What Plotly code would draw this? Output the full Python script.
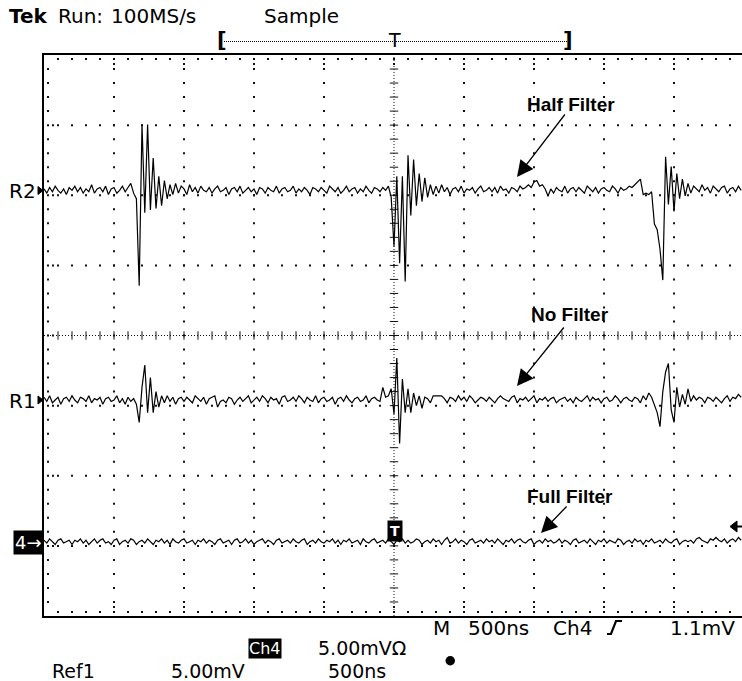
import numpy as np
import plotly.graph_objects as go

# ---------------------------------------------------------------------------
# Recorded waveforms (mV about each trace's own ground), 20 ns per sample
# ---------------------------------------------------------------------------
half_filter_mv = [
    0.1, -0.2, 0.2, -0.1, 0.3, 0.0, -0.2, 0.1, -0.3, 0.2,
    0.0, 0.3, -0.1, 0.2, -0.2, 0.1, -0.1, 0.4, -0.2, 0.1,
    0.2, -0.1, 0.3, -0.3, 0.1, 0.2, -0.2, 0.0, 0.3, -0.1,
    0.2, 0.5, -0.2, -0.6, -6.8, 4.7, -1.6, 4.7, -1.4, 2.3,
    -1.3, 1.0, -1.1, 0.7, -0.6, 0.4, -0.3, 0.5, -0.2, 0.3,
    0.1, -0.3, 0.4, -0.1, 0.2, -0.2, 0.3, 0.0, -0.1, 0.2,
    -0.2, 0.1, 0.3, -0.1, 0.0, 0.2, -0.3, 0.1, 0.2, -0.1,
    0.3, -0.2, 0.0, 0.2, -0.1, 0.1, -0.3, 0.2, 0.1, -0.2,
    0.2, 0.0, -0.1, 0.3, -0.2, 0.1, 0.2, -0.1, 0.0, 0.3,
    -0.2, 0.1, -0.1, 0.2, 0.0, -0.3, 0.2, 0.1, -0.1, 0.2,
    0.0, -0.2, 0.3, 0.1, -0.1, 0.2, -0.2, 0.0, 0.3, -0.1,
    0.1, 0.2, -0.2, 0.1, -0.1, 0.3, 0.0, -0.2, 0.2, 0.1,
    -0.1, 0.2, 0.0, 0.3, -0.5, -4.0, 1.0, -5.2, 1.0, -6.5,
    2.5, -1.8, 2.2, -1.1, 1.2, -0.8, 0.9, -0.5, 0.4, -0.3,
    0.3, -0.2, 0.4, -0.1, 0.2, -0.3, 0.1, 0.2, -0.1, 0.3,
    -0.2, 0.1, 0.0, 0.2, -0.2, 0.1, 0.3, -0.1, 0.0, 0.2,
    -0.1, 0.2, -0.2, 0.3, 0.0, 0.1, -0.2, 0.2, 0.1, -0.1,
    0.3, 0.1, 0.2, 0.4, 0.2, 0.6, 0.7, 0.3, 0.4, 0.1,
    -0.4, 0.1, -0.2, 0.2, 0.0, -0.1, 0.3, -0.2, 0.1, 0.2,
    -0.1, 0.2, 0.0, -0.2, 0.3, 0.1, -0.1, 0.2, -0.2, 0.1,
    0.2, 0.0, -0.1, 0.3, 0.1, -0.2, 0.2, 0.0, 0.1, 0.3,
    0.2, 0.4, 0.6, 0.8, -0.3, -0.2, -0.3, -0.1, -2.4, -2.8,
    -4.2, -6.4, 2.4, -1.0, 1.7, -1.5, 1.2, -0.6, 0.8, -0.4,
    0.5, -0.2, 0.3, 0.1, -0.1, 0.4, 0.0, 0.2, -0.2, 0.3,
    0.1, -0.1, 0.2, 0.3, -0.2, 0.1, 0.2, -0.1, 0.3, 0.0,
]

no_filter_mv = [
    0.2, -0.1, 0.3, -0.2, 0.0, 0.2, -0.3, 0.1, 0.2, -0.1,
    0.3, 0.0, -0.2, 0.2, 0.1, -0.1, 0.3, -0.2, 0.1, 0.0,
    0.2, -0.3, 0.1, 0.2, -0.1, 0.0, 0.3, -0.2, 0.1, -0.3,
    0.2, -0.1, 0.1, -0.3, -1.6, 0.9, 2.5, -0.9, 1.6, -0.9,
    0.6, -0.5, 0.3, -0.2, 0.3, -0.1, 0.2, -0.3, 0.1, 0.2,
    -0.1, 0.2, 0.0, -0.2, 0.3, 0.1, -0.1, 0.2, -0.3, 0.1,
    0.2, 0.3, -0.5, -0.1, 0.0, -0.2, 0.2, 0.1, -0.3, 0.0,
    0.2, -0.1, 0.1, 0.3, -0.2, 0.0, 0.2, -0.1, 0.3, 0.1,
    -0.2, 0.2, 0.0, 0.1, -0.3, 0.2, 0.3, -0.1, 0.0, 0.2,
    -0.1, 0.3, 0.1, -0.2, 0.2, 0.0, -0.1, 0.3, -0.2, 0.1,
    0.2, -0.1, 0.0, 0.2, -0.3, 0.1, 0.2, -0.1, 0.3, 0.0,
    -0.2, 0.1, 0.2, -0.1, 0.0, 0.3, -0.2, 0.1, 0.2, 0.0,
    -0.1, 0.9, 0.2, 0.3, 0.8, -1.0, 3.0, -3.1, 1.5, -0.9,
    0.8, -0.9, 0.5, -0.4, 0.3, -0.6, 0.2, 0.1, -0.2, 0.3,
    0.3, 0.3, 0.3, 0.1, -0.2, 0.2, 0.1, -0.1, 0.3, 0.0,
    0.2, -0.1, 0.3, 0.1, -0.2, 0.0, 0.2, 0.1, -0.1, 0.2,
    0.0, -0.2, 0.1, 0.3, 0.1, 0.0, -0.1, 0.2, 0.3, -0.2,
    0.1, 0.0, 0.2, -0.1, 0.1, 0.3, -0.2, 0.1, 0.0, 0.2,
    -0.1, 0.1, 0.2, -0.2, 0.0, 0.1, 0.2, -0.1, 0.1, -0.2,
    0.2, 0.0, -0.1, 0.1, 0.3, -0.1, 0.2, 0.0, 0.1, -0.2,
    0.1, 0.2, -0.1, 0.0, 0.3, 0.1, -0.2, 0.1, 0.2, 0.0,
    -0.1, 0.2, 0.1, -0.2, 0.3, 0.0, 0.5, 0.2, -0.4, -0.9,
    -1.9, 0.6, 2.0, 2.6, -0.7, -1.6, 0.9, -0.5, 0.4, -0.3,
    0.8, -0.1, 0.3, 0.0, 0.2, 0.1, -0.2, 0.2, 0.1, -0.1,
    0.2, 0.0, -0.2, 0.1, 0.3, -0.1, 0.2, 0.1, 0.4, 0.2,
]

full_filter_mv = [
    0.1, -0.1, 0.2, 0.0, -0.2, 0.1, 0.2, -0.1, 0.0, 0.1,
    -0.2, 0.1, 0.0, 0.2, -0.1, 0.1, -0.2, 0.0, 0.2, -0.1,
    0.1, 0.2, -0.1, 0.0, -0.2, 0.1, 0.2, -0.2, 0.0, 0.1,
    -0.1, 0.2, 0.1, -0.2, 0.0, 0.1, -0.1, 0.2, 0.0, -0.2,
    0.1, 0.0, 0.2, -0.1, 0.1, -0.2, 0.2, 0.0, -0.1, 0.1,
    0.2, -0.1, 0.0, 0.1, -0.2, 0.1, 0.0, 0.2, -0.1, 0.1,
    0.0, -0.2, 0.1, 0.2, -0.1, 0.0, 0.1, -0.2, 0.1, 0.2,
    -0.1, 0.0, 0.2, -0.1, 0.1, -0.2, 0.0, 0.1, 0.2, -0.1,
    0.1, 0.0, -0.2, 0.1, 0.2, -0.1, 0.0, 0.1, -0.1, 0.2,
    0.0, -0.1, 0.1, 0.2, -0.2, 0.0, 0.1, -0.1, 0.2, 0.0,
    -0.1, 0.1, 0.0, 0.2, -0.1, 0.1, -0.2, 0.1, 0.0, 0.2,
    -0.1, 0.0, 0.1, -0.2, 0.2, 0.0, -0.1, 0.1, 0.2, -0.1,
    0.0, 0.1, -0.1, 0.2, 0.0, -0.2, 0.1, 0.0, 0.2, -0.1,
    0.1, -0.1, 0.0, 0.2, 0.1, -0.2, 0.0, 0.1, -0.1, 0.2,
    0.0, 0.1, -0.2, 0.1, 0.3, -0.1, 0.0, 0.2, -0.1, 0.1,
    0.0, -0.2, 0.1, 0.2, -0.1, 0.0, 0.1, -0.1, 0.2, 0.0,
    0.1, -0.1, 0.2, 0.0, -0.2, 0.1, 0.0, 0.2, -0.1, 0.1,
    0.2, 0.0, -0.1, 0.1, 0.2, -0.2, 0.0, 0.1, -0.1, 0.2,
    0.0, 0.1, -0.1, 0.0, 0.2, -0.1, 0.1, 0.0, -0.2, 0.1,
    0.2, -0.1, 0.0, 0.1, -0.1, 0.2, 0.0, -0.2, 0.1, 0.0,
    0.2, -0.1, 0.1, 0.0, -0.1, 0.2, 0.1, -0.2, 0.0, 0.1,
    -0.1, 0.2, 0.0, 0.1, -0.2, 0.1, 0.0, 0.2, -0.1, 0.0,
    0.1, -0.1, 0.2, 0.0, -0.1, 0.1, 0.2, -0.2, 0.0, 0.1,
    0.0, 0.1, -0.1, 0.2, 0.3, 0.1, 0.0, -0.1, 0.2, 0.1,
    0.3, 0.1, 0.0, 0.2, -0.1, 0.1, 0.2, 0.0, 0.3, 0.1,
]

SAMPLE_NS = 20
NS_PER_DIV = 500
MV_PER_DIV = 5

# vertical position of each trace's ground marker, in divisions
pos_r2_div = 2.07
pos_r1_div = -0.92
pos_ch4_div = -2.94

# ---------------------------------------------------------------------------
# Screen geometry
# ---------------------------------------------------------------------------
W, H = 742, 681
L, T = 44, 55           # plot-area origin (px)
PW, PH = 698, 561       # plot-area size (px)
DIV_PX_X = 70.0
X0 = -5 * NS_PER_DIV
X1 = X0 + PW / DIV_PX_X * NS_PER_DIV
Y0, Y1 = -4 * MV_PER_DIV, 4 * MV_PER_DIV


def xd(px):
    return X0 + (px - L) / DIV_PX_X * NS_PER_DIV


def yd(py):
    return Y1 - (py - T) / PH * (Y1 - Y0)


def xp(px):
    return (px - L) / PW


def yp(py):
    return (T + PH - py) / PH


fig = go.Figure()

# ---------------------------------------------------------------------------
# Graticule
# ---------------------------------------------------------------------------
minor_x = X0 + (NS_PER_DIV / 5) * np.arange(0, 51)
minor_x = minor_x[minor_x < X1]
minor_y = np.arange(Y0, Y1 + 0.5, MV_PER_DIV / 5)
major_x = [X0 + NS_PER_DIV * k for k in range(1, 10) if k != 5]
major_y = [Y0 + MV_PER_DIV * k for k in range(1, 8) if k != 4]

gx, gy = [], []
for mx in major_x:
    for v in minor_y[1:-1]:
        gx.append(mx)
        gy.append(v)
for my in major_y:
    for u in minor_x[1:]:
        gx.append(u)
        gy.append(my)

# frame ticks: a dot just inside the border at every minor step,
# a second one further in at every major step
for v in minor_y[1:-1]:
    gx.append(xd(L + 4))
    gy.append(v)
for v in major_y + [0]:
    gx.append(xd(L + 9))
    gy.append(v)
for u in minor_x[1:]:
    gx += [u, u]
    gy += [yd(T + 4), yd(T + PH - 4)]
for u in major_x + [0]:
    gx += [u, u]
    gy += [yd(T + 9), yd(T + PH - 9)]

fig.add_trace(go.Scatter(
    x=gx, y=gy, mode="markers", hoverinfo="skip",
    marker=dict(symbol="square", size=2, color="#111111", line=dict(width=0)),
))

# centre crosshair tick marks
fig.add_trace(go.Scatter(
    x=list(minor_x[1:]), y=[0] * len(minor_x[1:]), mode="markers", hoverinfo="skip",
    marker=dict(symbol="line-ns", size=6, line=dict(width=1, color="#111111")),
))
fig.add_trace(go.Scatter(
    x=[0] * len(minor_y[1:-1]), y=list(minor_y[1:-1]), mode="markers", hoverinfo="skip",
    marker=dict(symbol="line-ew", size=6, line=dict(width=1, color="#111111")),
))

# ---------------------------------------------------------------------------
# Waveforms
# ---------------------------------------------------------------------------
waves = [
    ("Half Filter", half_filter_mv, pos_r2_div),
    ("No Filter", no_filter_mv, pos_r1_div),
    ("Full Filter", full_filter_mv, pos_ch4_div),
]
for name, mv, pos in waves:
    t = X0 + SAMPLE_NS * np.arange(len(mv))
    fig.add_trace(go.Scatter(
        x=t, y=np.array(mv) + pos * MV_PER_DIV, mode="lines", name=name,
        line=dict(color="black", width=1.2), hoverinfo="skip",
    ))

# ---------------------------------------------------------------------------
# Shapes
# ---------------------------------------------------------------------------
shapes = [
    # centre crosshair
    dict(type="line", xref="x", yref="y", x0=X0, x1=X1, y0=0, y1=0,
         line=dict(color="#111111", width=1, dash="1px,2px")),
    dict(type="line", xref="x", yref="y", x0=0, x1=0, y0=Y0, y1=Y1,
         line=dict(color="#111111", width=1, dash="1px,2px")),
    # record-window bar above the screen
    dict(type="line", xref="paper", yref="paper", x0=xp(224), x1=xp(567),
         y0=yp(41.5), y1=yp(41.5), line=dict(color="black", width=1, dash="1px,1px")),
    # trigger level marker on the right edge
    dict(type="path", xref="paper", yref="paper",
         path=f"M{xp(730)},{yp(526.5)} L{xp(737)},{yp(521)} L{xp(737)},{yp(532)} Z",
         fillcolor="black", line=dict(color="black", width=1)),
    dict(type="line", xref="paper", yref="paper", x0=xp(736), x1=xp(742),
         y0=yp(526.5), y1=yp(526.5), line=dict(color="black", width=2)),
    # rising-edge trigger slope glyph
    dict(type="path", xref="paper", yref="paper",
         path=f"M{xp(607)},{yp(634)} L{xp(611)},{yp(634)} L{xp(616)},{yp(621)} L{xp(622)},{yp(621)}",
         line=dict(color="black", width=2.2)),
    # run indicator dot
    dict(type="circle", xref="paper", yref="paper",
         x0=xp(445.5), x1=xp(455), y0=yp(656), y1=yp(665.5),
         fillcolor="black", line=dict(color="black", width=0)),
]
# reference ground markers
for py in (190.5, 400):
    shapes.append(dict(
        type="path", xref="paper", yref="paper",
        path=f"M{xp(38)},{yp(py - 4)} L{xp(43)},{yp(py)} L{xp(38)},{yp(py + 4)} Z",
        fillcolor="black", line=dict(color="black", width=1)))
fig.update_layout(shapes=shapes)

# ---------------------------------------------------------------------------
# Text
# ---------------------------------------------------------------------------
FONT = "DejaVu Sans"


def txt(s, px, py, size=20, anchor="left", color="black", family=FONT,
        weight="normal", bg=None, pad=0):
    return dict(text=s, x=xp(px), y=yp(py), xref="paper", yref="paper",
                xanchor=anchor, yanchor="middle", showarrow=False,
                font=dict(family=family, size=size, color=color, weight=weight),
                bgcolor=bg, borderpad=pad)


def arrow(tail, tip):
    return dict(text="", x=xd(tip[0]), y=yd(tip[1]), xref="x", yref="y",
                ax=tail[0] - tip[0], ay=tail[1] - tip[1], axref="pixel", ayref="pixel",
                showarrow=True, arrowhead=2, arrowsize=2.5, arrowwidth=1.3,
                arrowcolor="black")


LABEL_FONT = "Liberation Sans"
annotations = [
    txt("Tek", 8, 16, size=20, weight="bold"),
    txt("Run:", 57, 16, size=20),
    txt("100MS/s", 110, 16, size=20),
    txt("Sample", 263, 16, size=20),
    txt("[", 216, 40, size=21, weight="bold"),
    txt("T", 394, 40, size=19, anchor="center"),
    txt("]", 574, 40, size=21, anchor="right", weight="bold"),
    txt("R2", 37, 191, size=20, anchor="right"),
    txt("R1", 37, 401, size=20, anchor="right"),
    txt("4→", 44, 542.5, size=18, anchor="right", color="white", bg="black", pad=1),
    txt("T", 394.5, 531, size=14, anchor="center", color="white", bg="black",
        weight="bold", pad=2),
    txt("M", 432, 628, size=20),
    txt("500ns", 467, 628, size=20),
    txt("Ch4", 552, 628, size=20),
    txt("1.1mV", 669, 628, size=20),
    txt("Ch4", 265, 648, size=16, anchor="center", color="white", bg="black", pad=0),
    txt("5.00mVΩ", 407, 648, size=19, anchor="right"),
    txt("Ref1", 51, 671, size=19),
    txt("5.00mV", 170, 671, size=19),
    txt("500ns", 387, 671, size=19, anchor="right"),
    txt("Half Filter", 571, 104, size=19, anchor="center", family=LABEL_FONT, weight="bold"),
    txt("No Filter", 570, 314, size=19, anchor="center", family=LABEL_FONT, weight="bold"),
    txt("Full Filter", 570, 496, size=19, anchor="center", family=LABEL_FONT, weight="bold"),
    arrow((566, 113), (517, 177)),
    arrow((565, 326), (517, 386)),
    arrow((568, 505), (541, 533)),
]

fig.update_layout(
    annotations=annotations,
    width=W, height=H,
    margin=dict(l=L, r=W - L - PW, t=T, b=H - T - PH, pad=0),
    paper_bgcolor="white", plot_bgcolor="white",
    showlegend=False,
    xaxis=dict(range=[X0, X1], showgrid=False, zeroline=False, showticklabels=False,
               ticks="", showline=True, mirror=True, linecolor="black", linewidth=2,
               fixedrange=True),
    yaxis=dict(range=[Y0, Y1], showgrid=False, zeroline=False, showticklabels=False,
               ticks="", showline=True, mirror=False, linecolor="black", linewidth=2,
               fixedrange=True),
)

fig.write_html("out.html", config={"displayModeBar": False})
